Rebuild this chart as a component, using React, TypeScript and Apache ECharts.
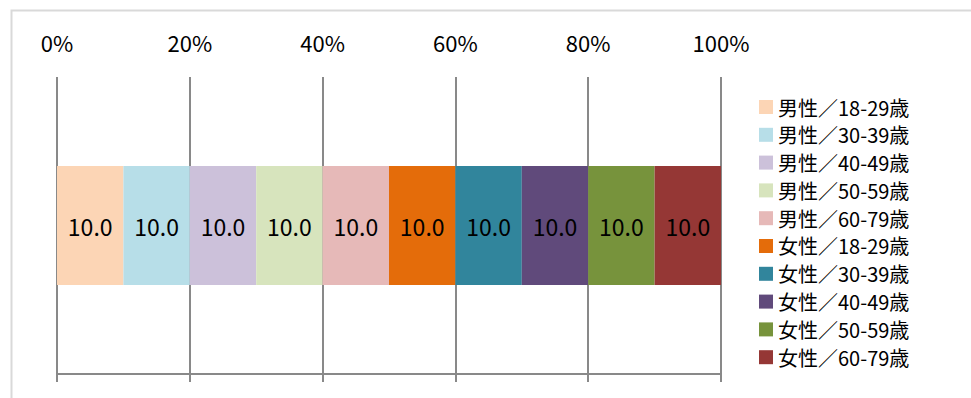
import React, { useEffect, useRef } from "react";
import * as echarts from "echarts";

const categories = ["全体"];
const seriesNames = [
  "男性／18-29歳",
  "男性／30-39歳",
  "男性／40-49歳",
  "男性／50-59歳",
  "男性／60-79歳",
  "女性／18-29歳",
  "女性／30-39歳",
  "女性／40-49歳",
  "女性／50-59歳",
  "女性／60-79歳",
];
const seriesValues = [10.0, 10.0, 10.0, 10.0, 10.0, 10.0, 10.0, 10.0, 10.0, 10.0];
const seriesColors = [
  "#FCD5B5",
  "#B7DEE8",
  "#CCC1DA",
  "#D7E4BD",
  "#E6B9B8",
  "#E46C0A",
  "#31859C",
  "#604A7B",
  "#77933C",
  "#953735",
];
const tickValues = [0, 20, 40, 60, 80, 100];

const FONT = "'Noto Sans CJK JP', 'Noto Sans', sans-serif";

export default function App() {
  const ref = useRef<HTMLDivElement>(null);
  useEffect(() => {
    if (!ref.current) return;
    const chart = echarts.init(ref.current, undefined, { renderer: "svg" });
    chart.setOption({
      animation: false,
      backgroundColor: "#ffffff",
      textStyle: { fontFamily: FONT },
      graphic: [
        {
          type: "rect",
          shape: { x: 11.5, y: 10.5, width: 1000, height: 500 },
          style: { fill: "none", stroke: "#d9d9d9", lineWidth: 2 },
          silent: true,
          z: -1,
        },
      ],
      legend: {
        orient: "vertical",
        left: 754,
        top: 92,
        itemWidth: 14,
        itemHeight: 14,
        itemGap: 7.8,
        icon: "rect",
        data: seriesNames,
        textStyle: { fontSize: 20, color: "#000", fontFamily: FONT },
      },
      grid: { left: 57, right: 250, top: 77, bottom: 24, containLabel: false },
      xAxis: [
        {
          type: "value",
          position: "top",
          min: tickValues[0],
          max: tickValues[tickValues.length - 1],
          interval: 20,
          axisLine: { show: false },
          axisTick: { show: false },
          axisLabel: {
            margin: 24,
            fontSize: 22,
            color: "#000",
            fontFamily: FONT,
            formatter: (v: number) => `${v}%`,
          },
          splitLine: { show: true, lineStyle: { color: "#898989", width: 2 } },
        },
        {
          type: "value",
          position: "bottom",
          min: tickValues[0],
          max: tickValues[tickValues.length - 1],
          interval: 20,
          axisLine: { show: true, onZero: false, lineStyle: { color: "#898989", width: 2 } },
          axisTick: { show: true, length: 8, lineStyle: { color: "#898989", width: 2 } },
          axisLabel: { show: false },
          splitLine: { show: false },
        },
      ],
      yAxis: { type: "category", data: categories, show: false },
      series: seriesNames.map((name, i) => ({
        name,
        type: "bar",
        stack: "total",
        xAxisIndex: 0,
        barWidth: "40%",
        data: [seriesValues[i]],
        itemStyle: { color: seriesColors[i] },
        label: {
          show: true,
          position: "inside",
          color: "#000",
          fontSize: 23,
          fontFamily: FONT,
          formatter: (p: any) => Number(p.value).toFixed(1),
        },
      })),
    });
    return () => chart.dispose();
  }, []);
  return (
    <div
      ref={ref}
      style={{ position: "fixed", left: 0, top: 0, width: 971, height: 398 }}
    />
  );
}
